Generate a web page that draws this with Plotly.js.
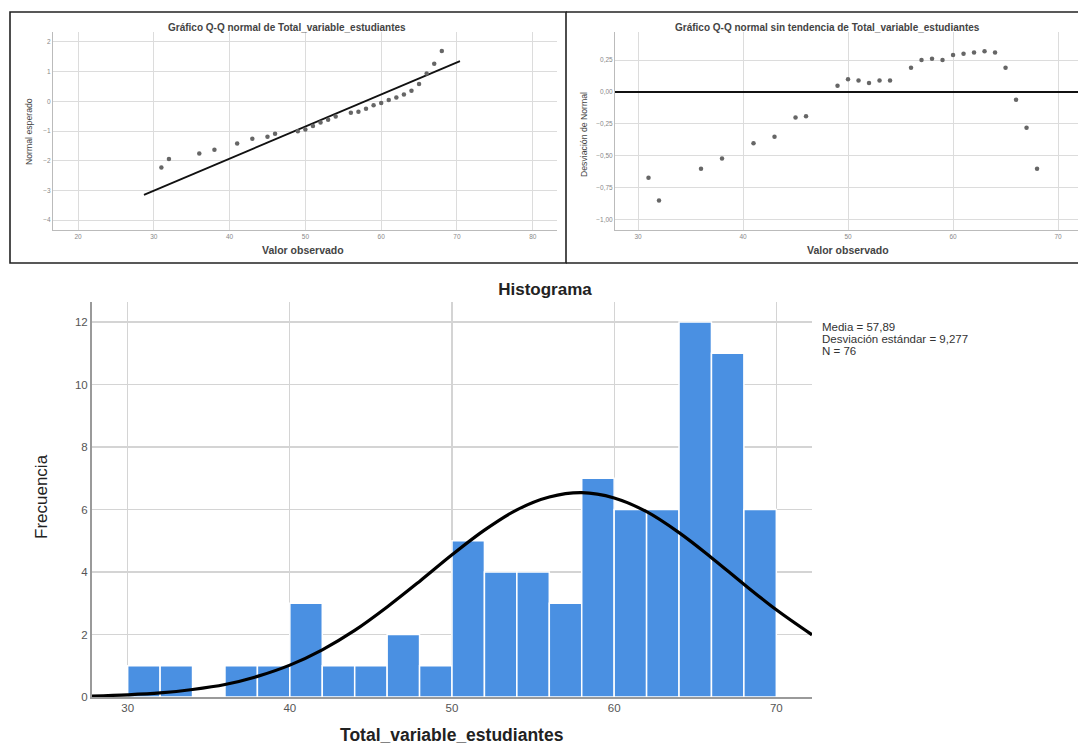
<!DOCTYPE html>
<html>
<head>
<meta charset="utf-8">
<script src="https://cdn.plot.ly/plotly-3.0.1.min.js"></script>
<style>html,body{margin:0;padding:0;background:#fff;}#chart{width:1078px;height:747px;}</style>
</head>
<body>
<div id="chart"></div>
<script>
// ---------- DATA ----------
// Histogram: bin centres (width 2) and frequencies
const binCenters = [31,33,35,37,39,41,43,45,47,49,51,53,55,57,59,61,63,65,67,69];
const binCounts  = [1,1,0,1,1,3,1,1,2,1,5,4,4,3,7,6,6,12,11,6];
// Normal curve over histogram
const curveX = [27.8,30,32,34,36,38,40,42,44,46,48,50,52,54,56,58,60,62,64,66,68,70,72.2];
const curveY = [0.03,0.07,0.13,0.24,0.40,0.66,1.02,1.51,2.13,2.88,3.70,4.55,5.34,5.99,6.40,6.54,6.37,5.93,5.26,4.46,3.61,2.79,1.99];
// Normal Q-Q plot
const qqObserved = [31,32,36,38,41,43,45,46,49,50,51,52,53,54,56,57,58,59,60,61,62,63,64,65,66,67,68];
const qqExpected = [-2.23,-1.94,-1.76,-1.63,-1.42,-1.26,-1.19,-1.09,-1.01,-0.95,-0.83,-0.71,-0.62,-0.51,-0.39,-0.35,-0.25,-0.13,-0.06,0.04,0.13,0.23,0.35,0.58,0.93,1.26,1.69];
const qqLineX = [28.7, 70.4];
const qqLineY = [-3.15, 1.35];
// Detrended normal Q-Q plot
const detrendDev = [-0.67,-0.85,-0.60,-0.52,-0.40,-0.35,-0.20,-0.19,0.05,0.10,0.09,0.07,0.09,0.09,0.19,0.25,0.26,0.25,0.29,0.30,0.31,0.32,0.31,0.19,-0.06,-0.28,-0.60];
// Texts
const histTitle = "Histograma";
const histXTitle = "Total_variable_estudiantes";
const histYTitle = "Frecuencia";
const statsLines = ["Media = 57,89", "Desviación estándar = 9,277", "N = 76"];
const qqTitle = "Gráfico Q-Q normal de Total_variable_estudiantes";
const dtTitle = "Gráfico Q-Q normal sin tendencia de Total_variable_estudiantes";
const qqYTitle = "Normal esperado";
const dtYTitle = "Desviación de Normal";
const obsTitle = "Valor observado";

// ---------- LAYOUT HELPERS ----------
const W = 1078, H = 747;
const px = x => x / W;
const py = y => 1 - y / H;
const FONT = "Liberation Sans, Arial, sans-serif";

const traces = [
  {type:'bar', x:binCenters, y:binCounts, width:2, xaxis:'x', yaxis:'y',
   marker:{color:'rgb(74,144,226)', line:{color:'#ffffff', width:1.5}}, hoverinfo:'x+y'},
  {type:'scatter', mode:'lines', x:curveX, y:curveY, xaxis:'x', yaxis:'y',
   line:{color:'#000000', width:3.2, shape:'spline'}},
  {type:'scatter', mode:'lines', x:qqLineX, y:qqLineY, xaxis:'x2', yaxis:'y2',
   line:{color:'#111111', width:1.8}},
  {type:'scatter', mode:'markers', x:qqObserved, y:qqExpected, xaxis:'x2', yaxis:'y2',
   marker:{color:'#666666', size:4.5}},
  {type:'scatter', mode:'markers', x:qqObserved, y:detrendDev, xaxis:'x3', yaxis:'y3',
   marker:{color:'#666666', size:4.5}}
];

const smallTick = {family:FONT, size:6.5, color:'#888'};
const gridC = '#dcdcdc';
const smallTitle = {family:FONT, size:10, color:'#444', weight:'bold'};
const statFont = {family:FONT, size:11.5, color:'#333'};

const layout = {
  width:W, height:H, margin:{l:0,r:0,t:0,b:0}, showlegend:false,
  paper_bgcolor:'#fff', plot_bgcolor:'#fff', separators:',.',
  font:{family:FONT},
  title:{text:histTitle, x:px(545), y:py(289), xanchor:'center', yanchor:'middle', xref:'paper', yref:'paper',
         font:{family:FONT, size:17, color:'#222', weight:'bold'}},
  // Histogram
  xaxis:{domain:[px(92), px(812)], range:[27.8,72.2], tickvals:[30,40,50,60,70],
         showgrid:true, gridcolor:'#d4d4d4', gridwidth:1.2, zeroline:false,
         showline:true, linecolor:'#9a9a9a', linewidth:1.5, ticks:'',
         tickfont:{family:FONT, size:11.5, color:'#555'}, anchor:'y'},
  yaxis:{domain:[py(697), py(302)], range:[0,12.64], tickvals:[0,2,4,6,8,10,12],
         showgrid:true, gridcolor:'#d4d4d4', gridwidth:1.2, zeroline:false,
         showline:true, linecolor:'#9a9a9a', linewidth:2, ticks:'',
         tickfont:{family:FONT, size:11.5, color:'#555'}, anchor:'x'},
  // Q-Q normal
  xaxis2:{domain:[px(53), px(557)], range:[16.7,83.2], tickvals:[20,30,40,50,60,70,80],
          showgrid:true, gridcolor:gridC, zeroline:false, showline:true, linecolor:'#bbb', linewidth:1,
          tickfont:smallTick, anchor:'y2'},
  yaxis2:{domain:[py(230), py(32)], range:[-4.33,2.33], tickvals:[-4,-3,-2,-1,0,1,2],
          showgrid:true, gridcolor:gridC, zeroline:false, showline:true, linecolor:'#bbb', linewidth:1,
          tickfont:smallTick, anchor:'x2'},
  // Detrended
  xaxis3:{domain:[px(615), 1], range:[27.81,71.9], tickvals:[30,40,50,60,70],
          showgrid:true, gridcolor:gridC, zeroline:false, showline:true, linecolor:'#bbb', linewidth:1,
          tickfont:smallTick, anchor:'y3'},
  yaxis3:{domain:[py(230), py(32)], range:[-1.08,0.47], tickvals:[-1,-0.75,-0.5,-0.25,0,0.25],
          tickformat:'.2f', showgrid:true, gridcolor:gridC,
          zeroline:true, zerolinecolor:'#111', zerolinewidth:2,
          showline:true, linecolor:'#bbb', linewidth:1, tickfont:smallTick, anchor:'x3'},
  shapes:[
    {type:'rect', xref:'paper', yref:'paper', x0:px(10), x1:px(566), y0:py(263), y1:py(12),
     line:{color:'#222', width:1.6}},
    {type:'line', xref:'paper', yref:'paper', x0:px(566), x1:1, y0:py(12), y1:py(12), line:{color:'#222', width:1.6}},
    {type:'line', xref:'paper', yref:'paper', x0:px(566), x1:1, y0:py(263), y1:py(263), line:{color:'#222', width:1.6}}
  ],
  annotations:[
    {text:histXTitle, xref:'paper', yref:'paper', x:px(452), y:py(735), xanchor:'center', yanchor:'middle',
     showarrow:false, font:{family:FONT, size:17.5, color:'#222', weight:'bold'}},
    {text:histYTitle, xref:'paper', yref:'paper', x:px(42), y:py(497), xanchor:'center', yanchor:'middle',
     textangle:-90, showarrow:false, font:{family:FONT, size:17, color:'#222'}},
    {text:statsLines[0], xref:'paper', yref:'paper', x:px(820), y:py(327), xanchor:'left', yanchor:'middle',
     showarrow:false, font:statFont},
    {text:statsLines[1], xref:'paper', yref:'paper', x:px(820), y:py(339), xanchor:'left', yanchor:'middle',
     showarrow:false, font:statFont},
    {text:statsLines[2], xref:'paper', yref:'paper', x:px(820), y:py(351), xanchor:'left', yanchor:'middle',
     showarrow:false, font:statFont},
    {text:qqTitle, xref:'paper', yref:'paper', x:px(287), y:py(27), xanchor:'center', yanchor:'middle',
     showarrow:false, font:smallTitle},
    {text:dtTitle, xref:'paper', yref:'paper', x:px(827), y:py(27), xanchor:'center', yanchor:'middle',
     showarrow:false, font:smallTitle},
    {text:qqYTitle, xref:'paper', yref:'paper', x:px(29), y:py(132), xanchor:'center', yanchor:'middle',
     textangle:-90, showarrow:false, font:{family:FONT, size:8.7, color:'#444'}},
    {text:dtYTitle, xref:'paper', yref:'paper', x:px(584), y:py(135), xanchor:'center', yanchor:'middle',
     textangle:-90, showarrow:false, font:{family:FONT, size:8.7, color:'#444'}},
    {text:obsTitle, xref:'paper', yref:'paper', x:px(303), y:py(250), xanchor:'center', yanchor:'middle',
     showarrow:false, font:{family:FONT, size:10.5, color:'#444', weight:'bold'}},
    {text:obsTitle, xref:'paper', yref:'paper', x:px(848), y:py(250), xanchor:'center', yanchor:'middle',
     showarrow:false, font:{family:FONT, size:10.5, color:'#444', weight:'bold'}}
  ]
};

Plotly.newPlot('chart', traces, layout, {displayModeBar:false, staticPlot:true});
</script>
</body>
</html>
